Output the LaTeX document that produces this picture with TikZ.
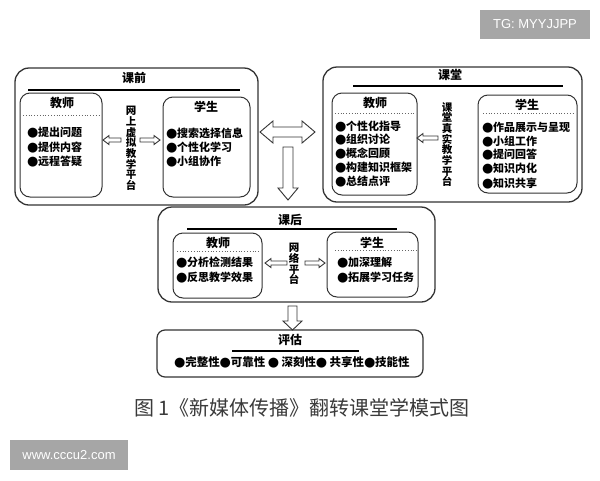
\documentclass[tikz,border=0pt]{standalone}
\usepackage{fontspec}
\setmainfont{Noto Sans CJK SC}
\newfontfamily\latinsans{Liberation Sans}
\newfontfamily\djv{DejaVu Sans}
\definecolor{edge}{HTML}{333333}
\definecolor{wm}{HTML}{A6A6A6}
\definecolor{cap}{HTML}{3A3A3A}
\newcommand{\bul}{\makebox[11pt]{\djv\fontsize{13}{11}\selectfont ●}}
\tikzset{
  outerbox/.style={draw=edge, line width=1.3pt, rounded corners=14pt},
  innerbox/.style={draw=edge, line width=1pt, rounded corners=10pt},
  evalbox/.style={draw=edge, line width=1.2pt, rounded corners=8pt},
  blk/.style={draw=edge, line width=0.9pt, fill=white, line join=miter},
  ttl/.style={font=\bfseries\fontsize{12}{12}\selectfont, inner sep=0pt},
  itm/.style={anchor=west, font=\bfseries\fontsize{11}{11}\selectfont, inner sep=0pt},
  vtxt/.style={align=center, font=\bfseries\fontsize{10.5}{10.7}\selectfont, inner sep=0pt},
  rule/.style={draw=black, line width=1.3pt},
  dots/.style={draw=black!60, line width=0.8pt, dotted},
  wmbox/.style={fill=wm, draw=none, text=white, font=\latinsans\fontsize{13}{13}\selectfont, inner sep=0pt},
}
% horizontal hollow arrow: tail x, tip x, y, shaft half, head half, head length (signed toward tip)
\newcommand{\hblk}[6]{%
  \draw[blk] ({#1},{#3-#4}) -- ({#2-(#6)},{#3-#4}) -- ({#2-(#6)},{#3-#5}) -- ({#2},{#3})
    -- ({#2-(#6)},{#3+#5}) -- ({#2-(#6)},{#3+#4}) -- ({#1},{#3+#4}) -- cycle;}
% vertical hollow down arrow: x, top y, tip y, shaft half, head half, head length
\newcommand{\vblk}[6]{%
  \draw[blk] ({#1-#4},{#2}) -- ({#1-#4},{#3-#6}) -- ({#1-#5},{#3-#6}) -- ({#1},{#3})
    -- ({#1+#5},{#3-#6}) -- ({#1+#4},{#3-#6}) -- ({#1+#4},{#2}) -- cycle;}
\begin{document}
\begin{tikzpicture}[x=1pt,y=-1pt]
\fill[white] (0,0) rectangle (600,480);
\useasboundingbox (0,0) rectangle (600,480);

% ---------- 课前 ----------
\node[outerbox, minimum width=243pt, minimum height=137pt] (pre) at (136.5,136.5) {};
\node[ttl] (preTitle) at (134,78) {课前};
\draw[rule] (28,90) -- (240,90);
\node[innerbox, minimum width=82pt, minimum height=104pt] (preT) at (61,145) {};
\node[ttl] (preTt) at (62,103) {教师};
\draw[dots] (23,115) -- (100,115);
\node[itm] (preT1) at (27,133) {\bul 提出问题};
\node[itm] (preT2) at (27,148) {\bul 提供内容};
\node[itm] (preT3) at (27,162) {\bul 远程答疑};
\node[vtxt] (preP) at (131,148.5) {网\\上\\虚\\拟\\教\\学\\平\\台};
\node[innerbox, minimum width=87pt, minimum height=100pt] (preS) at (206.5,147) {};
\node[ttl] (preSt) at (206,107) {学生};
\node[itm] (preS1) at (166,134) {\bul 搜索选择信息};
\node[itm] (preS2) at (166,148) {\bul 个性化学习};
\node[itm] (preS3) at (166,162) {\bul 小组协作};
\hblk{121}{103}{140}{2}{4.5}{-6}
\hblk{140}{160}{140}{2}{4.5}{6}

% ---------- 课堂 ----------
\node[outerbox, minimum width=259pt, minimum height=135pt] (cls) at (452.5,134.5) {};
\node[ttl] (clsTitle) at (450,75) {课堂};
\draw[rule] (353,86) -- (563,86);
\node[innerbox, minimum width=85pt, minimum height=102pt] (clsT) at (374.5,144) {};
\node[ttl] (clsTt) at (375,103) {教师};
\draw[dots] (335,113) -- (416,113);
\node[itm] (clsT1) at (335,127) {\bul 个性化指导};
\node[itm] (clsT2) at (335,140) {\bul 组织讨论};
\node[itm] (clsT3) at (335,154) {\bul 概念回顾};
\node[itm] (clsT4) at (335,168) {\bul 构建知识框架};
\node[itm] (clsT5) at (335,182) {\bul 总结点评};
\node[vtxt] (clsP) at (447,144.5) {课\\堂\\真\\实\\教\\学\\平\\台};
\node[innerbox, minimum width=99pt, minimum height=98pt] (clsS) at (527.5,144) {};
\node[ttl] (clsSt) at (527,105) {学生};
\draw[dots] (483,113) -- (575,113);
\node[itm] (clsS1) at (482,128) {\bul 作品展示与呈现};
\node[itm] (clsS2) at (482,142) {\bul 小组工作};
\node[itm] (clsS3) at (482,155) {\bul 提问回答};
\node[itm] (clsS4) at (482,169) {\bul 知识内化};
\node[itm] (clsS5) at (482,184) {\bul 知识共享};
\hblk{438}{417}{138}{2}{4.5}{-6}

% ---------- central arrows ----------
\draw[blk] (260,132) -- (273,121) -- (273,127) -- (302,127) -- (302,121) -- (315,132)
  -- (302,143) -- (302,137) -- (273,137) -- (273,143) -- cycle;
\vblk{288}{147}{200}{5}{10}{12}

% ---------- 课后 ----------
\node[outerbox, minimum width=277pt, minimum height=95pt] (post) at (296.5,254.5) {};
\node[ttl] (postTitle) at (290,220) {课后};
\draw[rule] (187,229) -- (397,229);
\node[innerbox, minimum width=89pt, minimum height=65pt] (postT) at (217.5,265.5) {};
\node[ttl] (postTt) at (218,243) {教师};
\draw[dots] (177,251) -- (260,251);
\node[itm] (postT1) at (176,263) {\bul 分析检测结果};
\node[itm] (postT2) at (176,278) {\bul 反思教学效果};
\node[vtxt] (postP) at (294,264) {网\\络\\平\\台};
\node[innerbox, minimum width=91pt, minimum height=65pt] (postS) at (372.5,264.5) {};
\node[ttl] (postSt) at (372,243) {学生};
\draw[dots] (335,250) -- (417,250);
\node[itm] (postS1) at (337,263) {\bul 加深理解};
\node[itm] (postS2) at (337,278) {\bul 拓展学习任务};
\hblk{287}{265}{263}{2}{4.5}{-6}
\hblk{305}{325}{263}{2}{4.5}{6}

\vblk{292.5}{306}{330}{4.5}{9.5}{9}

% ---------- 评估 ----------
\node[evalbox, minimum width=266pt, minimum height=47pt] (eval) at (290,353.5) {};
\node[ttl] (evalTitle) at (290,340) {评估};
\draw[rule] (232,351) -- (359,351);
\node[font=\bfseries\fontsize{11.5}{11.5}\selectfont, inner sep=0pt] (evalItems) at (292,362.5) {\bul 完整性\bul 可靠性 \bul\ 深刻性\bul\ 共享性\bul 技能性};

% ---------- caption ----------
\node[text=cap, font=\fontsize{20}{20}\selectfont, inner sep=0pt] (caption) at (302,408) {图 1《新媒体传播》翻转课堂学模式图};

% ---------- watermarks ----------
\node[wmbox, minimum width=110pt, minimum height=29pt] (wmTop) at (535,24.5) {TG: MYYJJPP};
\node[wmbox, minimum width=118pt, minimum height=30pt] (wmBottom) at (69,455) {www.cccu2.com};
\end{tikzpicture}
\end{document}
